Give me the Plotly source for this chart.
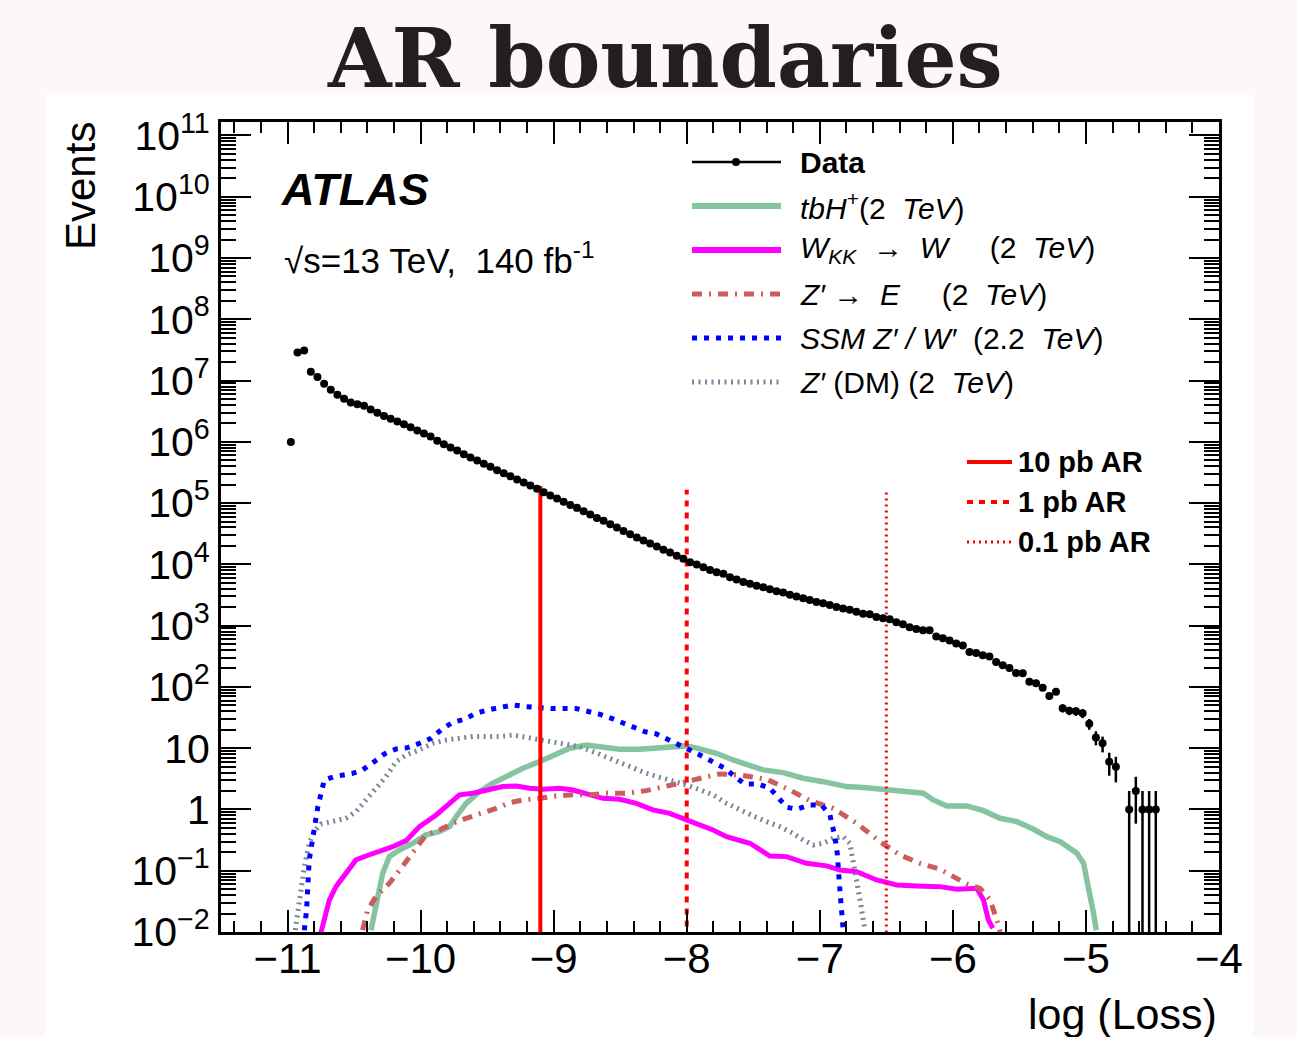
import numpy as np
import plotly.graph_objects as go

# ---------------- data ----------------
BIN_LO = -11.0
BIN_W = 0.05
data_counts = [
    990000, 28700000, 30900000, 13900000, 11400000, 8850000, 7060000, 5850000, 5040000, 4390000,
    4120000, 3870000, 3370000, 2970000, 2650000, 2380000, 2150000, 1940000, 1730000, 1530000,
    1370000, 1220000, 1040000, 916000, 807000, 721000, 630000, 555000, 495000, 438000,
    391000, 344000, 308000, 275000, 243000, 217000, 194000, 171000, 151000, 133000,
    119000, 105000, 93500, 83600, 73800, 65000, 57400, 51500, 45000, 39900,
    35200, 31100, 27400, 24500, 21900, 19500, 17300, 15600, 13800, 12400,
    10800, 9930, 8990, 8130, 7450, 7000, 6170, 5650, 5180, 4810,
    4460, 4240, 3940, 3650, 3470, 3180, 2990, 2810, 2630, 2440,
    2320, 2180, 2020, 1900, 1810, 1690, 1570, 1530, 1390, 1320,
    1270, 1140, 1050, 942, 885, 841, 840, 664, 624, 571,
    511, 473, 372, 359, 329, 313, 256, 226, 204, 169,
    167, 121, 115, 97, 71, 83, 45, 41, 40, 37,
    25, 15, 12, 6, 5, 0, 1, 2, 1, 1, 1,
]

tbh_x = [-10.373, -10.335, -10.285, -10.235, -10.16, -10.059, -9.959, -9.859, -9.783, -9.733,
         -9.658, -9.558, -9.457, -9.332, -9.232, -9.106, -9.006, -8.88, -8.755, -8.63,
         -8.504, -8.354, -8.178, -8.002, -7.902, -7.777, -7.652, -7.551, -7.426, -7.275,
         -7.125, -6.974, -6.798, -6.648, -6.497, -6.347, -6.222, -6.147, -6.046, -5.896,
         -5.770, -5.645, -5.519, -5.394, -5.294, -5.193, -5.068, -5.018, -4.98, -4.943, -4.922]
tbh_y = [0.0107, 0.0259, 0.0908, 0.170, 0.218, 0.281, 0.384, 0.435, 0.524, 0.764,
         1.26, 1.95, 2.68, 3.66, 4.71, 6.03, 7.46, 9.98, 11.3, 10.2,
         9.59, 9.59, 10.2, 10.9, 9.77, 8.26, 6.43, 5.33, 4.42, 3.99,
         3.23, 2.84, 2.36, 2.26, 2.08, 1.95, 1.84, 1.43, 1.14, 1.14,
         0.955, 0.718, 0.632, 0.474, 0.360, 0.298, 0.193, 0.132, 0.055, 0.0202, 0.0107]

wkk_x = [-10.749, -10.724, -10.686, -10.636, -10.561, -10.486, -10.41, -10.31, -10.21, -10.109,
         -10.009, -9.883, -9.783, -9.708, -9.608, -9.507, -9.382, -9.281, -9.181, -9.081,
         -8.956, -8.855, -8.755, -8.63, -8.504, -8.379, -8.254, -8.128, -8.002, -7.877,
         -7.802, -7.701, -7.526, -7.375, -7.25, -7.1, -6.949, -6.849, -6.723, -6.573,
         -6.422, -6.272, -6.096, -5.971, -5.82, -5.77, -5.733, -5.7]
wkk_y = [0.0098, 0.0158, 0.0331, 0.0550, 0.0908, 0.150, 0.174, 0.205, 0.247, 0.310,
         0.524, 0.813, 1.26, 1.73, 1.84, 2.08, 2.36, 2.42, 2.22, 2.14,
         2.22, 2.08, 1.84, 1.52, 1.47, 1.26, 0.982, 0.865, 0.675, 0.537,
         0.462, 0.360, 0.281, 0.174, 0.170, 0.132, 0.120, 0.103, 0.0966, 0.0706,
         0.0585, 0.0564, 0.0550, 0.0498, 0.0516, 0.0333, 0.0157, 0.0115]

zpe_x = [-10.436, -10.398, -10.335, -10.235, -10.147, -10.059, -9.959, -9.859, -9.758, -9.658,
         -9.533, -9.432, -9.332, -9.232, -9.106, -8.981, -8.855, -8.73, -8.604, -8.454,
         -8.303, -8.153, -8.002, -7.877, -7.752, -7.601, -7.4, -7.225, -7.074, -6.899,
         -6.723, -6.548, -6.397, -6.247, -6.096, -5.996, -5.896, -5.795, -5.72, -5.67, -5.645]
zpe_y = [0.0107, 0.0229, 0.0380, 0.0624, 0.110, 0.205, 0.384, 0.462, 0.596, 0.718,
         0.865, 1.04, 1.29, 1.43, 1.52, 1.66, 1.73, 1.73, 1.84, 1.84,
         2.03, 2.36, 2.84, 3.31, 3.80, 3.66, 3.11, 2.08, 1.39, 1.04,
         0.596, 0.298, 0.181, 0.132, 0.106, 0.0800, 0.0608, 0.0516, 0.0333, 0.0157, 0.0100]

ssm_x = [-10.874, -10.857, -10.837, -10.80, -10.772, -10.724, -10.649, -10.51, -10.436, -10.348,
         -10.272, -10.184, -10.097, -10.009, -9.921, -9.846, -9.758, -9.67, -9.582, -9.495,
         -9.407, -9.307, -9.206, -9.106, -9.006, -8.83, -8.743, -8.655, -8.555, -8.467,
         -8.391, -8.316, -8.228, -8.14, -8.053, -7.977, -7.889, -7.802, -7.714, -7.639,
         -7.564, -7.463, -7.375, -7.313, -7.25, -7.175, -7.074, -6.987, -6.924, -6.886,
         -6.869, -6.849, -6.829, -6.824]
ssm_y = [0.0107, 0.0229, 0.150, 0.408, 1.11, 3.02, 3.44, 3.89, 4.42, 6.03,
         8.05, 9.73, 10.2, 12.0, 14.5, 19.9, 26.5, 29.7, 37.2, 42.1,
         46.6, 50.8, 47.6, 44.9, 44.3, 44.3, 40.6, 35.8, 30.1, 25.5,
         21.6, 18.6, 17.1, 13.6, 11.3, 9.35, 7.5, 6.03, 4.71, 3.44,
         2.61, 2.61, 2.22, 1.58, 1.09, 1.01, 1.18, 1.18, 0.813, 0.360,
         0.193, 0.0485, 0.0178, 0.0107]

dm_x = [-10.942, -10.912, -10.874, -10.837, -10.80, -10.749, -10.649, -10.561, -10.486, -10.41,
        -10.335, -10.26, -10.184, -10.109, -10.009, -9.909, -9.808, -9.708, -9.608, -9.507,
        -9.407, -9.307, -9.206, -9.106, -9.006, -8.905, -8.805, -8.705, -8.604, -8.504,
        -8.404, -8.303, -8.203, -8.103, -8.002, -7.902, -7.802, -7.701, -7.601, -7.501,
        -7.4, -7.3, -7.2, -7.125, -7.05, -6.974, -6.899, -6.824, -6.774, -6.749,
        -6.723, -6.698, -6.673, -6.661]
dm_y = [0.0107, 0.0331, 0.116, 0.281, 0.435, 0.579, 0.656, 0.718, 0.920, 1.43,
        2.22, 3.44, 6.03, 7.76, 9.35, 12.0, 13.6, 14.5, 15.5, 15.5,
        15.5, 16.4, 15.1, 13.6, 12.8, 12.0, 10.6, 8.79, 7.11, 5.68,
        4.71, 3.89, 3.35, 2.95, 2.51, 2.09, 1.73, 1.26, 0.98, 0.783,
        0.632, 0.524, 0.408, 0.318, 0.263, 0.281, 0.339, 0.360, 0.281, 0.150,
        0.0706, 0.0333, 0.0157, 0.0108]

ar_cuts = [-9.1, -8.0, -6.5]
ar_tops = [190000, 165000, 160000]
ar_labels = ["10 pb AR", "1 pb AR", "0.1 pb AR"]
ar_dash = ["solid", "6px,6px", "2px,4px"]
ar_width = [4, 4, 3]

x_ticks = [-11, -10, -9, -8, -7, -6, -5, -4]
x_ticktext = ["\u221211", "\u221210", "\u22129", "\u22128", "\u22127", "\u22126", "\u22125", "\u22124"]
y_tick_exp = [-2, -1, 0, 1, 2, 3, 4, 5, 6, 7, 8, 9, 10, 11]
y_ticktext = ["10<sup>\u22122</sup>", "10<sup>\u22121</sup>", "1", "10", "10<sup>2</sup>", "10<sup>3</sup>",
              "10<sup>4</sup>", "10<sup>5</sup>", "10<sup>6</sup>", "10<sup>7</sup>", "10<sup>8</sup>",
              "10<sup>9</sup>", "10<sup>10</sup>", "10<sup>11</sup>"]

# ---------------- styles ----------------
GREEN = "#85c3a1"
MAGENTA = "#ff00ff"
INDIAN = "#cd5c5c"
BLUE = "#0000ff"
GREY = "#778899"
RED = "#ff0000"
FONT = "Liberation Sans, Arial, Helvetica, sans-serif"

W, H = 1297, 1037
L, R, T, B = 221, 1219, 122, 932


def px(x):
    return (x - L) / (R - L)


def py(y):
    return (B - y) / (B - T)


fig = go.Figure()

signals = [
    (tbh_x, tbh_y, GREEN, 5.5, "solid"),
    (wkk_x, wkk_y, MAGENTA, 5, "solid"),
    (zpe_x, zpe_y, INDIAN, 5, "10px,7px,2px,7px"),
    (dm_x, dm_y, GREY, 5, "2px,4.5px"),
    (ssm_x, ssm_y, BLUE, 5, "5px,7px"),
]
for sx, sy, col, wd, dsh in signals:
    fig.add_trace(go.Scatter(x=sx, y=sy, mode="lines", line=dict(color=col, width=wd, dash=dsh),
                             showlegend=False, hoverinfo="skip"))

for cut, top, dsh, wd in zip(ar_cuts, ar_tops, ar_dash, ar_width):
    fig.add_trace(go.Scatter(x=[cut, cut], y=[0.005, top], mode="lines",
                             line=dict(color=RED, width=wd, dash=dsh), showlegend=False, hoverinfo="skip"))

centers = BIN_LO + BIN_W * (np.arange(len(data_counts)) + 0.5)
cnt = np.array(data_counts, dtype=float)
mask = cnt > 0
fig.add_trace(go.Scatter(
    x=centers[mask], y=cnt[mask], mode="markers",
    marker=dict(color="black", size=8),
    error_y=dict(type="data", array=np.sqrt(cnt[mask]), width=0, thickness=2.5, color="black"),
    showlegend=False, hoverinfo="skip"))

shapes = []
annotations = []

# white panel
shapes.append(dict(type="rect", xref="paper", yref="paper", x0=px(45), x1=px(1253), y0=py(1040), y1=py(95),
                   fillcolor="white", line=dict(width=0), layer="below"))

# legend 1
leg1 = [
    ("<b>Data</b>", "black", 2.5, "solid", 162),
    ("<i>tbH</i><sup>+</sup>(2\u00a0 <i>TeV</i>)", GREEN, 6, "solid", 206),
    ("<i>W</i><sub><i>KK</i></sub>\u00a0 \u2192\u00a0 <i>W</i>\u00a0\u00a0\u00a0\u00a0 (2\u00a0 <i>TeV</i>)", MAGENTA, 6, "solid", 250),
    ("<i>Z\u2032</i>\u00a0\u2192\u00a0 <i>E</i>\u00a0\u00a0\u00a0\u00a0 (2\u00a0 <i>TeV</i>)", INDIAN, 5, "10px,7px,2px,7px", 294),
    ("<i>SSM Z\u2032 / W\u2032</i>\u00a0 (2.2\u00a0 <i>TeV</i>)", BLUE, 5, "5px,7px", 338),
    ("<i>Z\u2032</i> (DM) (2\u00a0 <i>TeV</i>)", GREY, 5, "2px,4.5px", 382),
]
for txt, col, wd, dsh, yy in leg1:
    shapes.append(dict(type="line", xref="paper", yref="paper", x0=px(692), x1=px(781), y0=py(yy), y1=py(yy),
                       line=dict(color=col, width=wd, dash=dsh)))
    annotations.append(dict(text=txt, xref="paper", yref="paper", x=px(798), y=py(yy), xanchor="left",
                            yanchor="middle", showarrow=False, font=dict(family=FONT, size=30, color="black")))
shapes.append(dict(type="circle", xref="paper", yref="paper", x0=px(732), x1=px(740), y0=py(166), y1=py(158),
                   fillcolor="black", line=dict(width=0)))

# legend 2
for lab, dsh, wd, yy in zip(ar_labels, ar_dash, ar_width, [462, 502, 542]):
    shapes.append(dict(type="line", xref="paper", yref="paper", x0=px(967), x1=px(1012), y0=py(yy), y1=py(yy),
                       line=dict(color=RED, width=wd, dash=dsh)))
    annotations.append(dict(text="<b>" + lab + "</b>", xref="paper", yref="paper", x=px(1016), y=py(yy),
                            xanchor="left", yanchor="middle", showarrow=False,
                            font=dict(family=FONT, size=29, color="black")))

# texts
annotations.append(dict(text="<b><i>ATLAS</i></b>", xref="paper", yref="paper", x=px(279), y=py(190),
                        xanchor="left", yanchor="middle", showarrow=False,
                        font=dict(family=FONT, size=45, color="black")))
annotations.append(dict(text="\u221as=13 TeV,\u00a0 140 fb<sup>-1</sup>", xref="paper", yref="paper",
                        x=px(282), y=py(258), xanchor="left", yanchor="middle", showarrow=False,
                        font=dict(family=FONT, size=35, color="black")))
annotations.append(dict(text="<b>AR boundaries</b>", xref="paper", yref="paper", x=px(665), y=py(58),
                        xanchor="center", yanchor="middle", showarrow=False,
                        font=dict(family="DejaVu Serif, serif", size=82, color="#231f20")))
annotations.append(dict(text="Events", xref="paper", yref="paper", x=px(80), y=py(186), textangle=-90,
                        xanchor="center", yanchor="middle", showarrow=False,
                        font=dict(family=FONT, size=42, color="black")))
annotations.append(dict(text="log (Loss)", xref="paper", yref="paper", x=1.0, y=py(1014),
                        xanchor="right", yanchor="middle", showarrow=False,
                        font=dict(family=FONT, size=43, color="black")))

fig.update_layout(
    width=W, height=H,
    margin=dict(l=L, r=W - R, t=T, b=H - B, pad=0),
    paper_bgcolor="#fcf8f8", plot_bgcolor="white",
    shapes=shapes, annotations=annotations, showlegend=False,
    xaxis=dict(range=[-11.5, -4], tickmode="array", tickvals=x_ticks, ticktext=x_ticktext,
               ticks="inside", ticklen=22, tickwidth=2, tickcolor="black", mirror="allticks",
               showline=True, linewidth=3, linecolor="black", showgrid=False, zeroline=False,
               ticklabelstandoff=-12,
               tickfont=dict(family=FONT, size=42, color="black"),
               minor=dict(ticks="inside", ticklen=11, tickwidth=2, tickcolor="black", dtick=0.2, tick0=-11,
                          showgrid=False)),
    yaxis=dict(type="log", range=[-2, 11.22], tickmode="array", tickvals=[10.0 ** e for e in y_tick_exp],
               ticktext=y_ticktext, ticks="inside", ticklen=30, tickwidth=2, tickcolor="black",
               mirror="allticks", showline=True, linewidth=3, linecolor="black", showgrid=False,
               zeroline=False, tickfont=dict(family=FONT, size=41, color="black"),
               minor=dict(ticks="inside", ticklen=15, tickwidth=2, tickcolor="black", dtick="D1",
                          showgrid=False)),
)

fig.write_html("out.html", config={"displayModeBar": False},
               post_script="document.body.style.margin='0';document.body.style.overflow='hidden';")
